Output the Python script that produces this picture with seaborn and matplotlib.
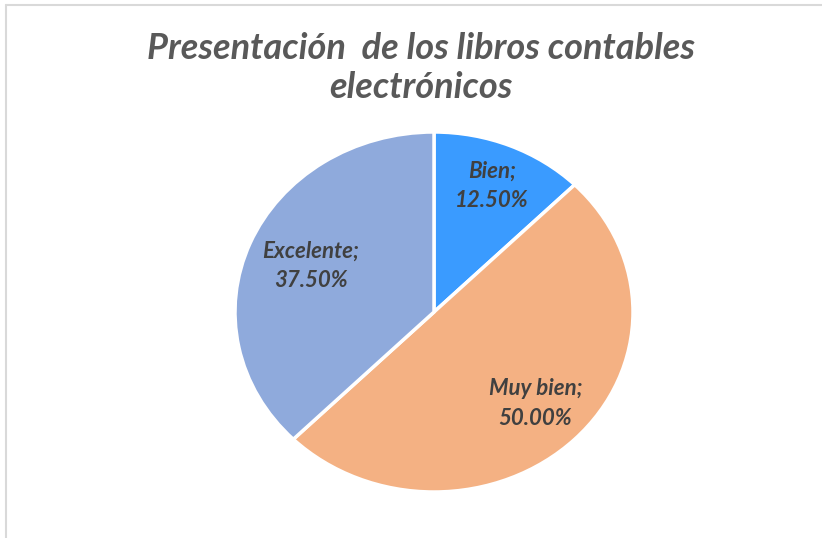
import seaborn as sns
import matplotlib.pyplot as plt
import numpy as np

sns.set_style("white")
plt.rcParams["font.family"] = ["Lato", "DejaVu Sans"]

categories = ["Bien", "Muy bien", "Excelente"]
shares = [12.5, 50.0, 37.5]
colors = ["#3A9BFF", "#F4B183", "#8FAADC"]

fig = plt.figure(figsize=(8.22, 5.38), dpi=100)

# frame lines like the pasted chart border
fig.add_artist(plt.Line2D([6 / 822, 1], [1 - 5 / 538] * 2, color="#D9D9D9", lw=1.5))
fig.add_artist(plt.Line2D([6 / 822] * 2, [0, 1 - 5 / 538], color="#D9D9D9", lw=1.5))

ax = fig.add_axes([235 / 822, 46 / 538, 398 / 822, 360 / 538])
wedges, _ = ax.pie(shares, colors=colors, startangle=90, counterclock=False,
                   wedgeprops={"edgecolor": "white", "linewidth": 2.5})
ax.set_aspect("auto")
ax.set_xlim(-1, 1)
ax.set_ylim(-1, 1)
ax.axis("off")

label_dist = [0.76, 0.72, 0.67]
for w, cat, val, d in zip(wedges, categories, shares, label_dist):
    ang = np.deg2rad((w.theta1 + w.theta2) / 2)
    ax.text(d * np.cos(ang), d * np.sin(ang), f"{cat};\n{val:.2f}%",
            ha="center", va="center", fontsize=16, fontweight="bold",
            fontstyle="italic", color="#404040", linespacing=1.5)

fig.text(421 / 822, 1 - 68 / 538, "Presentación  de los libros contables\nelectrónicos",
         ha="center", va="center", fontsize=26, fontweight="bold",
         fontstyle="italic", color="#595959", linespacing=1.25)

plt.savefig("out.png", dpi=100)
plt.close()
